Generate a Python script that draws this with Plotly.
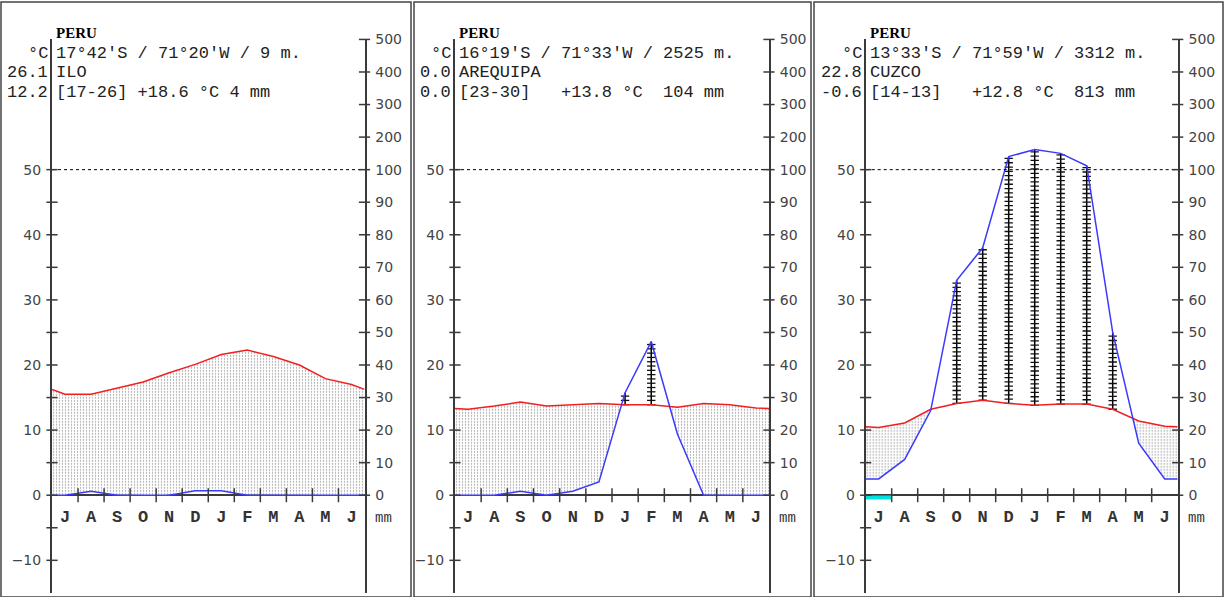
import numpy as np
import plotly.graph_objects as go

# ---------------- data ----------------
months = ["J", "A", "S", "O", "N", "D", "J", "F", "M", "A", "M", "J"]
temp_ticks = [-10, 0, 10, 20, 30, 40, 50]
mm_ticks = [0, 10, 20, 30, 40, 50, 60, 70, 80, 90, 100, 200, 300, 400, 500]

country = "PERU"
stations = ["ILO", "AREQUIPA", "CUZCO"]
coords = ["17°42'S / 71°20'W / 9 m.", "16°19'S / 71°33'W / 2525 m.", "13°33'S / 71°59'W / 3312 m."]
abs_max = ["26.1", "0.0", "22.8"]
abs_min = ["12.2", "0.0", "-0.6"]
summary = ["[17-26] +18.6 °C 4 mm", "[23-30]   +13.8 °C  104 mm", "[14-13]   +12.8 °C  813 mm"]

temp_ilo = [15.5, 15.5, 16.4, 17.4, 18.8, 20.1, 21.6, 22.3, 21.3, 20.0, 17.9, 17.0]
prec_ilo = [0, 1.2, 0, 0, 0, 1.4, 1.4, 0, 0, 0, 0, 0]
frost_ilo = [0, 0, 0, 0, 0, 0, 0, 0, 0, 0, 0, 0]

temp_areq = [13.2, 13.7, 14.3, 13.7, 13.9, 14.1, 13.9, 13.9, 13.5, 14.1, 13.9, 13.4]
prec_areq = [0, 0, 1.2, 0, 1.2, 4.1, 31.5, 47.2, 18.8, 0, 0, 0]
frost_areq = [0, 0, 0, 0, 0, 0, 0, 0, 0, 0, 0, 0]

temp_cuzco = [10.4, 11.1, 13.2, 14.1, 14.6, 14.1, 13.8, 14.0, 14.0, 13.2, 11.4, 10.6]
prec_cuzco = [5, 11, 26, 66, 76, 140, 162, 150, 112, 50, 16, 5]
frost_cuzco = [1, 0, 0, 0, 0, 0, 0, 0, 0, 0, 0, 0]

temps = [temp_ilo, temp_areq, temp_cuzco]
precs = [prec_ilo, prec_areq, prec_cuzco]
frosts = [frost_ilo, frost_areq, frost_cuzco]

# ---------------- layout constants ----------------
W = 1225
H = 606                      # figure height (page is photographed slightly squeezed)
SQ = 0.986                   # vertical squeeze observed in the photograph
axis_px = [(52, 364.5), (455, 769), (865.7, 1177.7)]
frames_px = [(1, 411), (414, 811), (814, 1223)]
YMIN, YMAX = -15, 70
y_top_px, y_bot_px = 39, 592

MONO = "Liberation Mono"
SANS = "DejaVu Sans"
AX = "#3a3a3a"
RED = "#f02020"
BLUE = "#3a3aff"


def p2axis(p):
    """Walter-Lieth precipitation scale: 20 mm = 10 °C up to 100 mm, then 1/10."""
    p = np.asarray(p, dtype=float)
    return np.where(p <= 100, p / 2.0, 50 + (p - 100) / 20.0)


def py(px):
    """target picture row -> paper coordinate"""
    return 1 - ((px + 0.4) / SQ) / H


fig = go.Figure()
layout = dict(
    width=W, height=H, margin=dict(l=0, r=0, t=0, b=0),
    paper_bgcolor="white", plot_bgcolor="white", showlegend=False,
    annotations=[], shapes=[],
)

centers = np.arange(12) + 0.5
xs = np.linspace(0, 12, 1201)

for k in range(3):
    xa = "x" + str(k + 1)
    ya = "y" + str(k + 1)
    yr = "y" + str(k + 4)
    T = np.array(temps[k], dtype=float)
    P = p2axis(precs[k])

    # extended series to the diagram edges
    xe = np.concatenate([[0], centers, [12]])
    Te = np.concatenate([[(T[0] + T[-1]) / 2], T, [(T[0] + T[-1]) / 2]])
    Pe = np.concatenate([[(P[0] + P[-1]) / 2], P, [(P[0] + P[-1]) / 2]])

    Ti = np.interp(xs, xe, Te)
    Pi = np.interp(xs, xe, Pe)
    lower = np.minimum(Ti, Pi)

    # arid period (dotted)
    fig.add_trace(go.Scatter(
        x=np.concatenate([xs, xs[::-1]]), y=np.concatenate([Ti, lower[::-1]]),
        xaxis=xa, yaxis=ya, mode="lines", line=dict(width=0), fill="toself",
        fillcolor="white",
        fillpattern=dict(shape=".", size=3, solidity=0.17, fgcolor="#222222", bgcolor="white"),
        hoverinfo="skip"))

    # humid period (ladder hatching)
    lx, ly, mx, my = [], [], [], []
    for i in range(12):
        if P[i] > T[i]:
            lx += [centers[i], centers[i], None]
            ly += [T[i], P[i], None]
            ticks = np.arange(T[i], P[i] + 0.01, 0.66)
            mx += [centers[i]] * len(ticks)
            my += list(ticks)
    if lx:
        fig.add_trace(go.Scatter(x=lx, y=ly, xaxis=xa, yaxis=ya, mode="lines",
                                 line=dict(color="black", width=1.5), hoverinfo="skip"))
        fig.add_trace(go.Scatter(x=mx, y=my, xaxis=xa, yaxis=ya, mode="markers",
                                 marker=dict(symbol="line-ew", size=6, line=dict(color="#111111", width=1.3)),
                                 hoverinfo="skip"))

    # temperature and precipitation curves
    fig.add_trace(go.Scatter(x=xe, y=Te, xaxis=xa, yaxis=ya, mode="lines",
                             line=dict(color=RED, width=1.5), hoverinfo="skip"))
    fig.add_trace(go.Scatter(x=xe, y=Pe, xaxis=xa, yaxis=ya, mode="lines",
                             line=dict(color=BLUE, width=1.5), hoverinfo="skip"))

    # 100 mm dashed line
    fig.add_trace(go.Scatter(x=[0, 12], y=[50, 50], xaxis=xa, yaxis=ya, mode="lines",
                             line=dict(color="black", width=1, dash="3px,3px"), hoverinfo="skip"))

    # frost months
    fx, fy = [], []
    for i, f in enumerate(frosts[k]):
        if f:
            fx += [i, i + 1, None]
            fy += [-0.35, -0.35, None]
    if fx:
        fig.add_trace(go.Scatter(x=fx, y=fy, xaxis=xa, yaxis=ya, mode="lines",
                                 line=dict(color="#00e0e0", width=4), hoverinfo="skip"))

    # crossing tick marks: left axis, month boundaries, right axis
    lt = np.arange(-10, 51, 5)
    fig.add_trace(go.Scatter(x=[0] * len(lt), y=lt, xaxis=xa, yaxis=ya, mode="markers",
                             cliponaxis=False,
                             marker=dict(symbol="line-ew", size=8, line=dict(color=AX, width=1.5)),
                             hoverinfo="skip"))
    mb = np.arange(1, 12)
    fig.add_trace(go.Scatter(x=mb, y=[0] * len(mb), xaxis=xa, yaxis=ya, mode="markers",
                             cliponaxis=False,
                             marker=dict(symbol="line-ns", size=10, line=dict(color=AX, width=1.5)),
                             hoverinfo="skip"))
    rt = p2axis(mm_ticks)
    fig.add_trace(go.Scatter(x=[12] * len(rt), y=rt, xaxis=xa, yaxis=yr, mode="markers",
                             cliponaxis=False,
                             marker=dict(symbol="line-ew", size=8, line=dict(color=AX, width=1.5)),
                             hoverinfo="skip"))

    # month labels
    fig.add_trace(go.Scatter(x=centers, y=[-3.5] * 12, xaxis=xa, yaxis=ya, mode="text",
                             text=months, cliponaxis=False,
                             textfont=dict(family=MONO, size=17, color="#333333", weight="bold"),
                             hoverinfo="skip"))

    x0p, x1p = axis_px[k]
    dom = [x0p / W, x1p / W]
    layout["xaxis" + str(k + 1)] = dict(
        domain=dom, range=[0, 12], anchor=ya, showline=False, showgrid=False,
        zeroline=False, showticklabels=False, fixedrange=True)
    layout["yaxis" + str(k + 1)] = dict(
        domain=[py(y_bot_px), py(y_top_px)], range=[YMIN, YMAX], anchor=xa,
        showline=True, linecolor=AX, linewidth=2, showgrid=False,
        zeroline=True, zerolinecolor=AX, zerolinewidth=1.5,
        tickvals=temp_ticks, ticks="", ticklabelstandoff=6,
        tickfont=dict(family=SANS, size=14, color="#444444"), fixedrange=True)
    layout["yaxis" + str(k + 4)] = dict(
        overlaying=ya, side="right", anchor=xa, range=[YMIN, YMAX],
        showline=True, linecolor=AX, linewidth=2, showgrid=False, zeroline=False,
        tickvals=list(rt), ticktext=[str(v) for v in mm_ticks], ticks="",
        ticklabelstandoff=6,
        tickfont=dict(family=SANS, size=14, color="#444444"), fixedrange=True)

    # header texts
    hdr = dict(xref=xa, yref="paper", x=0, showarrow=False, yanchor="middle")
    A = layout["annotations"]
    A.append(dict(hdr, text="<b>" + country + "</b>", xanchor="left", xshift=2, y=py(33),
                  font=dict(family="Liberation Serif", size=15, color="black")))
    A.append(dict(hdr, text=coords[k], xanchor="left", xshift=2, y=py(53),
                  font=dict(family=MONO, size=17, color="#222222")))
    A.append(dict(hdr, text=stations[k], xanchor="left", xshift=2, y=py(72),
                  font=dict(family=MONO, size=17, color="#222222")))
    A.append(dict(hdr, text=summary[k].replace(" ", "&nbsp;"),
                  xanchor="left", xshift=2, y=py(92),
                  font=dict(family=MONO, size=17, color="#222222")))
    for txt, yy in (("°C", 53), (abs_max[k], 72), (abs_min[k], 92)):
        A.append(dict(hdr, text=txt, xanchor="right", xshift=-2, y=py(yy),
                      font=dict(family=MONO, size=17, color="#222222")))
    A.append(dict(xref=xa, yref=ya, x=12, y=-3.5, text="mm", showarrow=False,
                  xanchor="left", xshift=8, yanchor="middle",
                  font=dict(family=MONO, size=14, color="#333333")))

    # panel frame
    f0, f1 = frames_px[k]
    layout["shapes"].append(dict(type="rect", xref="paper", yref="paper",
                                 x0=f0 / W, x1=f1 / W, y0=py(596), y1=py(1.5),
                                 line=dict(color="#444444", width=1.5)))

fig.update_layout(**layout)

pin = ("var gd=document.getElementById('{plot_id}');"
       "document.documentElement.style.margin='0';document.body.style.margin='0';"
       "document.body.style.padding='0';document.body.style.overflow='hidden';"
       "gd.style.position='fixed';gd.style.left='0px';gd.style.top='-8px';")
fig.write_html("out.html", post_script=pin, config={"displayModeBar": False})
